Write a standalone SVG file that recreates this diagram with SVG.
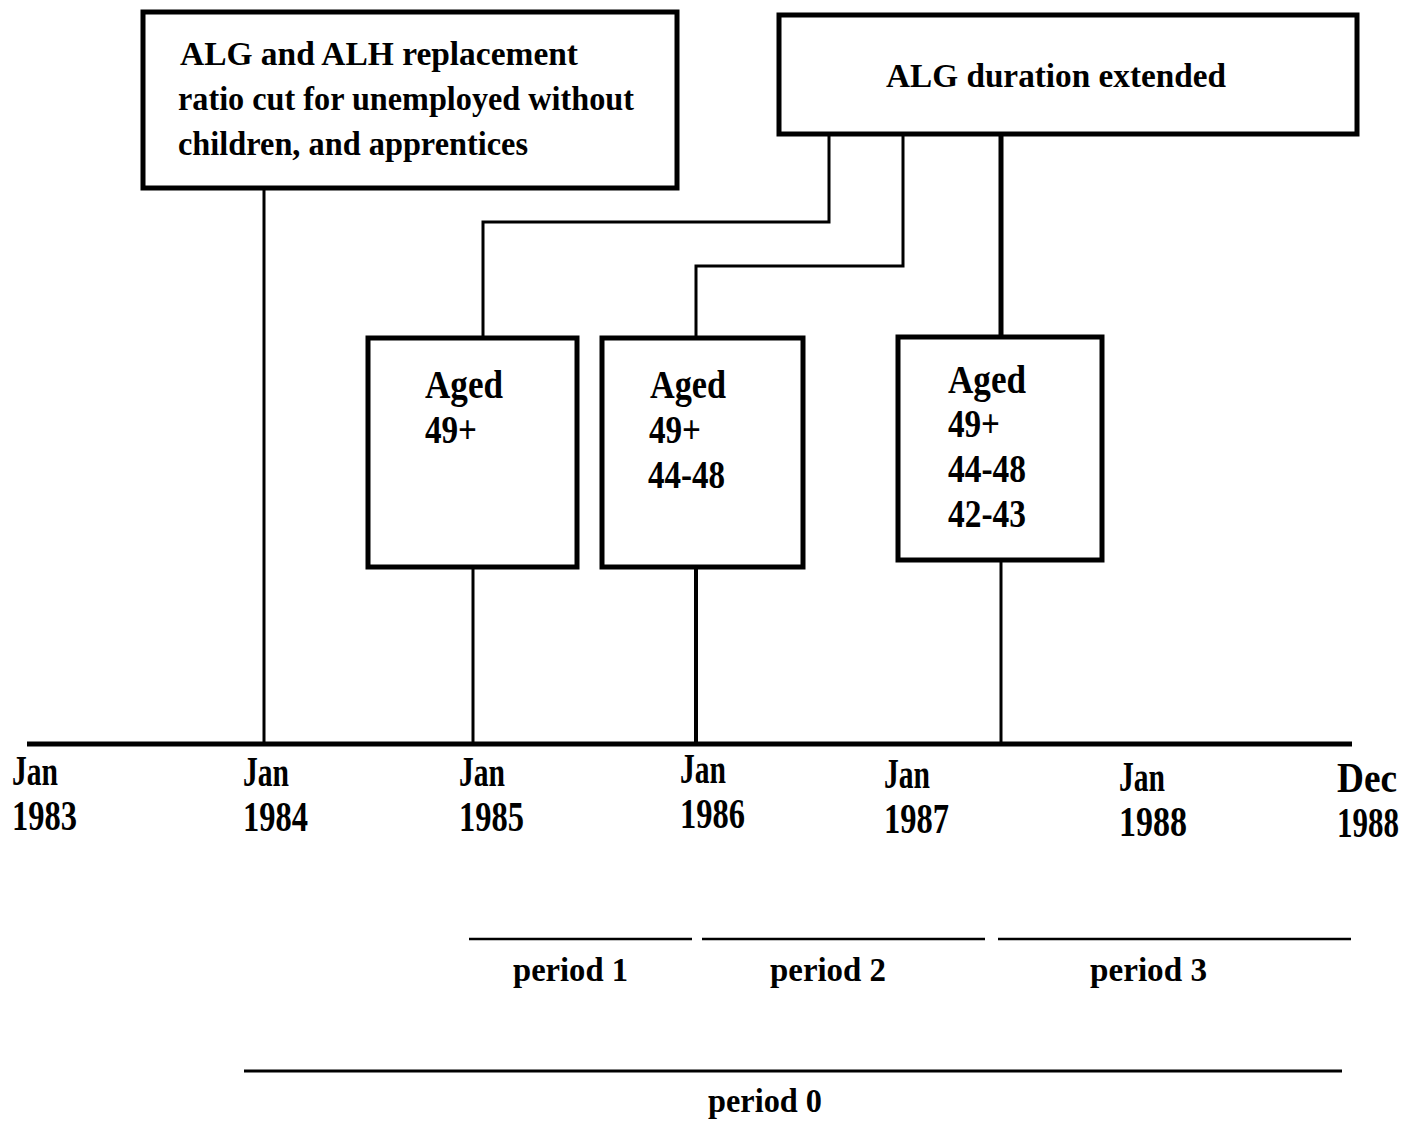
<svg xmlns="http://www.w3.org/2000/svg" width="1419" height="1121" viewBox="0 0 1419 1121">
<style>
.box{fill:#fff;stroke:#000;stroke-width:5}
.t{font-family:"Liberation Serif",serif;font-weight:bold;fill:#000}
.s{font-size:33px}
.m{font-size:40px}
.y{font-size:42px}
.p{font-size:34px}
.ln{stroke:#000;fill:none}
</style>
<rect width="1419" height="1121" fill="#fff"/>
<g id="connectors">
<line class="ln" x1="264" y1="189" x2="264" y2="744" stroke-width="3"/>
<polyline class="ln" points="829,135 829,222 483,222 483,337" stroke-width="3"/>
<polyline class="ln" points="903,135 903,266 696,266 696,337" stroke-width="3"/>
<line class="ln" x1="1001" y1="135" x2="1001" y2="336" stroke-width="5"/>
<line class="ln" x1="473" y1="568" x2="473" y2="744" stroke-width="3"/>
<line class="ln" x1="696" y1="568" x2="696" y2="744" stroke-width="4"/>
<line class="ln" x1="1001" y1="561" x2="1001" y2="744" stroke-width="3"/>
</g>
<g id="timeline">
<line class="ln" x1="27" y1="744" x2="1352" y2="744" stroke-width="5"/>
<text class="t y" x="12" y="785" textLength="46" lengthAdjust="spacingAndGlyphs">Jan</text>
<text class="t y" x="12" y="830" textLength="65" lengthAdjust="spacingAndGlyphs">1983</text>
<text class="t y" x="243" y="786" textLength="46" lengthAdjust="spacingAndGlyphs">Jan</text>
<text class="t y" x="243" y="831" textLength="65" lengthAdjust="spacingAndGlyphs">1984</text>
<text class="t y" x="459" y="786" textLength="46" lengthAdjust="spacingAndGlyphs">Jan</text>
<text class="t y" x="459" y="831" textLength="65" lengthAdjust="spacingAndGlyphs">1985</text>
<text class="t y" x="680" y="783" textLength="46" lengthAdjust="spacingAndGlyphs">Jan</text>
<text class="t y" x="680" y="828" textLength="65" lengthAdjust="spacingAndGlyphs">1986</text>
<text class="t y" x="884" y="788" textLength="46" lengthAdjust="spacingAndGlyphs">Jan</text>
<text class="t y" x="884" y="833" textLength="65" lengthAdjust="spacingAndGlyphs">1987</text>
<text class="t y" x="1119" y="791" textLength="46" lengthAdjust="spacingAndGlyphs">Jan</text>
<text class="t y" x="1119" y="836" textLength="68" lengthAdjust="spacingAndGlyphs">1988</text>
<text class="t y" x="1337" y="792" textLength="60" lengthAdjust="spacingAndGlyphs">Dec</text>
<text class="t y" x="1337" y="837" textLength="62" lengthAdjust="spacingAndGlyphs">1988</text>
</g>
<g id="periods">
<line class="ln" x1="469" y1="939" x2="692" y2="939" stroke-width="2.5"/>
<line class="ln" x1="702" y1="939" x2="985" y2="939" stroke-width="2.5"/>
<line class="ln" x1="998" y1="939" x2="1351" y2="939" stroke-width="2.5"/>
<line class="ln" x1="244" y1="1071" x2="1342" y2="1071" stroke-width="3"/>
<text class="t p" x="513" y="981" textLength="115" lengthAdjust="spacingAndGlyphs">period 1</text>
<text class="t p" x="770" y="981" textLength="116" lengthAdjust="spacingAndGlyphs">period 2</text>
<text class="t p" x="1090" y="981" textLength="117" lengthAdjust="spacingAndGlyphs">period 3</text>
<text class="t p" x="708" y="1112" textLength="114" lengthAdjust="spacingAndGlyphs">period 0</text>
</g>
<g id="node-replacement">
<rect class="box" x="143" y="12" width="534" height="176"/>
<text class="t s" x="180" y="65" textLength="398" lengthAdjust="spacingAndGlyphs">ALG and ALH replacement</text>
<text class="t s" x="178" y="110" textLength="456" lengthAdjust="spacingAndGlyphs">ratio cut for unemployed without</text>
<text class="t s" x="178" y="155" textLength="350" lengthAdjust="spacingAndGlyphs">children, and apprentices</text>
</g>
<g id="node-duration">
<rect class="box" x="779" y="15" width="578" height="119"/>
<text class="t s" x="886" y="87" textLength="340" lengthAdjust="spacingAndGlyphs">ALG duration extended</text>
</g>
<g id="node-aged1">
<rect class="box" x="368" y="338" width="209" height="229"/>
<text class="t m" x="425" y="398" textLength="78" lengthAdjust="spacingAndGlyphs">Aged</text>
<text class="t m" x="425" y="443" textLength="52" lengthAdjust="spacingAndGlyphs">49+</text>
</g>
<g id="node-aged2">
<rect class="box" x="602" y="338" width="201" height="229"/>
<text class="t m" x="650" y="398" textLength="76" lengthAdjust="spacingAndGlyphs">Aged</text>
<text class="t m" x="649" y="443" textLength="52" lengthAdjust="spacingAndGlyphs">49+</text>
<text class="t m" x="648" y="488" textLength="77" lengthAdjust="spacingAndGlyphs">44-48</text>
</g>
<g id="node-aged3">
<rect class="box" x="898" y="337" width="204" height="223"/>
<text class="t m" x="948" y="393" textLength="78" lengthAdjust="spacingAndGlyphs">Aged</text>
<text class="t m" x="948" y="437" textLength="52" lengthAdjust="spacingAndGlyphs">49+</text>
<text class="t m" x="948" y="482" textLength="78" lengthAdjust="spacingAndGlyphs">44-48</text>
<text class="t m" x="948" y="527" textLength="78" lengthAdjust="spacingAndGlyphs">42-43</text>
</g>
</svg>
